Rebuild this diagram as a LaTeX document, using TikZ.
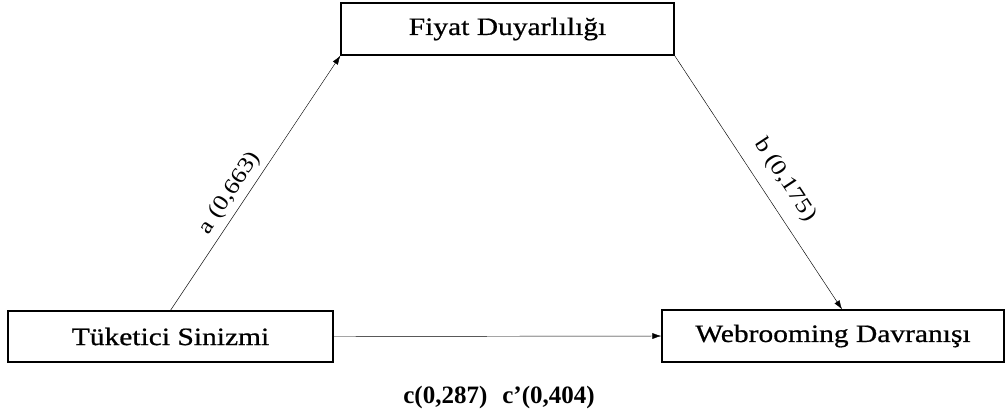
\documentclass[tikz,border=0pt]{standalone}
\usepackage{fontspec}
\setmainfont{Liberation Serif}
\newfontfamily\boxfont[FakeStretch=1.18,FakeBold=0.7]{Liberation Serif}
\newfontfamily\lblfont[FakeStretch=1.18]{Liberation Serif}
\usetikzlibrary{arrows.meta}
\begin{document}
\begin{tikzpicture}[x=1pt,y=-1pt,
  box/.style={draw,line width=1.3pt,inner sep=0pt,anchor=center,
    font=\boxfont\fontsize{25}{30}\selectfont},
  conn/.style={line width=0.45pt,-{Latex[length=9pt,width=6pt]}},
  lbl/.style={font=\lblfont\fontsize{22}{26}\selectfont,inner sep=0pt}]
\useasboundingbox (0,0) rectangle (1006,416);
\node[box,minimum width=333pt,minimum height=52pt] (fd) at (507.5,29) {Fiyat Duyarlılığı};
\node[box,minimum width=325pt,minimum height=51pt] (ts) at (170.5,336.5) {Tüketici Sinizmi};
\node[box,minimum width=342pt,minimum height=52pt] (wd) at (833,336) {Webrooming Davranışı};
\draw[conn] (ts.north) -- (fd.south west);
\draw[conn] (fd.south east) -- ([xshift=9pt]wd.north);
\draw[conn] (ts.east) -- (wd.west);
\node[lbl,rotate=56.6] (la) at (230,193) {a (0,663)};
\node[lbl,rotate=-56.6] (lb) at (785,180) {b (0,175)};
\node[font=\bfseries\fontsize{25}{30}\selectfont,inner sep=0pt] (lc) at (499,397) {c(0,287)\hspace{0.6em}c’(0,404)};
\end{tikzpicture}
\end{document}
